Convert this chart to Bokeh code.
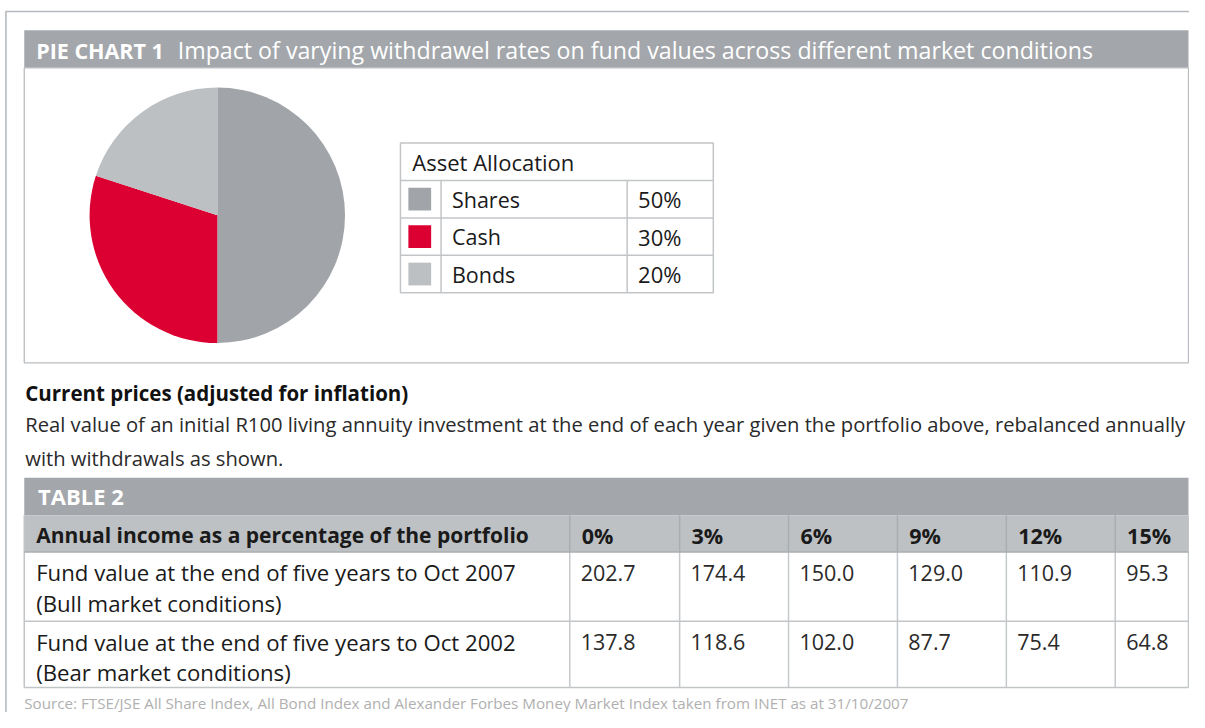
from bokeh.plotting import figure
from bokeh.models import Range1d
from bokeh.core.properties import value
from bokeh.embed import file_html
from bokeh.resources import INLINE
import numpy as np

# ---------------- data ----------------
chart_title_bold = "PIE CHART 1"
chart_title = "Impact of varying withdrawel rates on fund values across different market conditions"
asset_header = "Asset Allocation"
asset_labels = ["Shares", "Cash", "Bonds"]
asset_shares = [50, 30, 20]
asset_colors = ["#a1a5a9", "#dc0032", "#bcc0c3"]

section_title = "Current prices (adjusted for inflation)"
section_lines = ["Real value of an initial R100 living annuity investment at the end of each year given the portfolio above, rebalanced annually",
                 "with withdrawals as shown."]

table_title = "TABLE 2"
table_header = "Annual income as a percentage of the portfolio"
rate_labels = ["0%", "3%", "6%", "9%", "12%", "15%"]
row_labels = [["Fund value at the end of five years to Oct 2007", "(Bull market conditions)"],
              ["Fund value at the end of five years to Oct 2002", "(Bear market conditions)"]]
bull_values = [202.7, 174.4, 150.0, 129.0, 110.9, 95.3]
bear_values = [137.8, 118.6, 102.0, 87.7, 75.4, 64.8]
source_text = "Source: FTSE/JSE All Share Index, All Bond Index and Alexander Forbes Money Market Index taken from INET as at 31/10/2007"

# ---------------- layout helpers ----------------
H = 728.0
def Y(v):
    return H - v

FONT = "Open Sans"
DARK = "#1a1a1a"
BODY = "#2a2a2a"
BAR = "#a3a7ab"
LIGHTBAR = "#bdc1c4"
GRID = "#c2c5c8"
HDRLINE = "#aaaeb1"

W_PX, H_PX = 1189, 712
S = 0.99  # px per unit
xa = 1.0
xb = xa + W_PX / S
ya = 0.0
yb = ya + H_PX / S

p = figure(width=W_PX, height=H_PX, output_backend="svg", toolbar_location=None,
           x_range=Range1d(xa, xb), y_range=Range1d(Y(yb), Y(ya)),
           min_border=0, border_fill_color="white", background_fill_color="white")
p.axis.visible = False
p.xgrid.visible = False
p.ygrid.visible = False
p.outline_line_color = None


def txt(x, y, s, size, color=DARK, style="normal", align="left"):
    p.text(x=[x], y=[Y(y)], text=[s], text_font=value(FONT), text_font_size=size,
           text_color=color, text_font_style=style, text_align=align, text_baseline="middle")


def hline(x0, x1, y, color=GRID, w=1.3):
    p.segment(x0=[x0], y0=[Y(y)], x1=[x1], y1=[Y(y)], line_color=color, line_width=w)


def vline(x, y0, y1, color=GRID, w=1.3):
    p.segment(x0=[x], y0=[Y(y0)], x1=[x], y1=[Y(y1)], line_color=color, line_width=w)

# outer frame
hline(6, 1210, 11, "#b5b9bd", 1.5)
vline(6.5, 11, 740, "#b5b9bd", 1.6)

# ---------------- pie panel ----------------
p.quad(left=[25], right=[1201], top=[Y(30)], bottom=[Y(68)], fill_color=BAR, line_color=None)
txt(37, 50, chart_title_bold, "21.5px", "white", "bold")
txt(180, 50, chart_title, "23.2px", "white")
p.quad(left=[25], right=[1201], top=[Y(68)], bottom=[Y(366)], fill_color=None, line_color="#b9bdc1", line_width=1.3)

shares = np.array(asset_shares, dtype=float)
cum = np.concatenate([[0], np.cumsum(shares)]) / shares.sum()
starts = np.pi / 2 - cum[:-1] * 2 * np.pi
ends = np.pi / 2 - cum[1:] * 2 * np.pi
p.wedge(x=220, y=Y(217), radius=129, start_angle=starts, end_angle=ends, direction="clock",
        fill_color=asset_colors, line_color=None)

# legend table
lt, ll, lr = 144, 405, 721
rh = 37.8
p.quad(left=[ll], right=[lr], top=[Y(lt)], bottom=[Y(lt + 4 * rh)], fill_color=None, line_color=GRID, line_width=1.5)
for i in range(1, 4):
    hline(ll, lr, lt + i * rh, GRID, 1.5)
vline(446, lt + rh, lt + 4 * rh, GRID, 1.5)
vline(634, lt + rh, lt + 4 * rh, GRID, 1.5)
txt(417, lt + rh / 2, asset_header, "22px")
sw_y = [Y(lt + rh * (i + 1) + rh / 2) for i in range(len(asset_labels))]
p.rect(x=424.5, y=sw_y, width=23, height=23, fill_color=asset_colors, line_color=None)
for i, (lab, v) in enumerate(zip(asset_labels, asset_shares)):
    cy = lt + rh * (i + 1) + rh / 2
    txt(457, cy, lab, "21.5px")
    txt(645, cy, f"{v}%", "22px")

# ---------------- text block ----------------
txt(26, 396, section_title, "20.5px", "#111111", "bold")
txt(26, 428, section_lines[0], "20.2px", BODY)
txt(26, 462, section_lines[1], "20.2px", BODY)

# ---------------- table 2 ----------------
p.quad(left=[25], right=[1201], top=[Y(482)], bottom=[Y(520)], fill_color=BAR, line_color=None)
txt(39, 501, table_title, "22px", "white", "bold")
p.quad(left=[25], right=[1201], top=[Y(520)], bottom=[Y(557)], fill_color=LIGHTBAR, line_color=None)
col_edges = [576, 687, 797, 907, 1017, 1127, 1201]
for x in col_edges[:-1]:
    vline(x, 557, 694, "#c6c9cc", 1.5)
    vline(x, 520, 557, HDRLINE, 1.5)
vline(25, 520, 694, GRID, 1.5)
vline(1201, 520, 694, GRID, 1.5)
hline(25, 1201, 557, HDRLINE, 1.5)
hline(25, 1201, 627, GRID, 1.5)
hline(25, 1201, 694, GRID, 1.5)

txt(37, 540, table_header, "21px", DARK, "bold")
for i, r in enumerate(rate_labels):
    txt(col_edges[i] + 12, 540, r, "21.5px", DARK, "bold")

row_tops = [557, 627]
for ri, (labels, vals) in enumerate(zip(row_labels, [bull_values, bear_values])):
    t = row_tops[ri]
    txt(37, t + 21, labels[0], "22.2px", DARK)
    txt(37, t + 52, labels[1], "22.2px", DARK)
    for i, v in enumerate(vals):
        txt(col_edges[i] + 11, t + 21, f"{v:.1f}", "21.5px", BODY)

txt(25, 710, source_text, "15.2px", "#b0b0b0")

open("out.html", "w").write(file_html(p, INLINE))
